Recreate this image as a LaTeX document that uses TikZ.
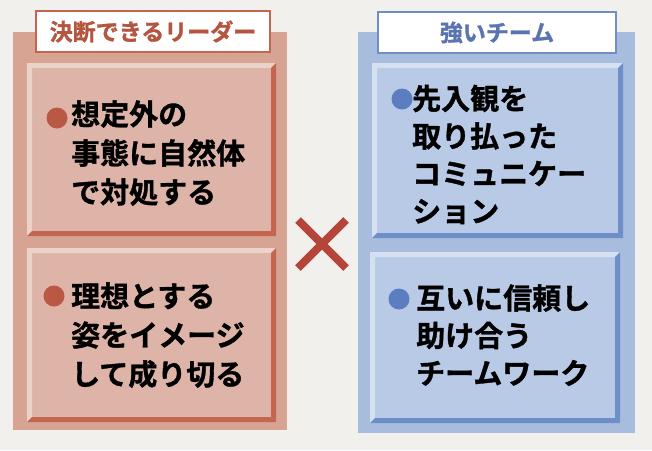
\documentclass[tikz,border=0pt]{standalone}
\usepackage{fontspec}
\newfontfamily\jp{Noto Sans CJK JP}[BoldFont={Noto Sans CJK JP Bold}, BoldFeatures={FakeBold=1.2}]
\definecolor{pagebg}{HTML}{F2F0ED}
\definecolor{lpanel}{HTML}{D7A494}
\definecolor{lbox}{HTML}{DDB4A7}
\definecolor{llight}{HTML}{EBD3CA}
\definecolor{ldark}{HTML}{C4664F}
\definecolor{ltext}{HTML}{B4553F}
\definecolor{lbullet}{HTML}{B95943}
\definecolor{rpanel}{HTML}{A8BDDE}
\definecolor{rbox}{HTML}{B8CAE6}
\definecolor{rlight}{HTML}{D5E0F1}
\definecolor{rdark}{HTML}{6E8EC9}
\definecolor{rtext}{HTML}{5A74B2}
\definecolor{rbullet}{HTML}{5C7DC0}
\definecolor{crossc}{HTML}{B5453A}
\newcommand\bevbox[7]{%
  \fill[#5] (#1,#2) rectangle (#3,#4);
  \fill[#6] (#1,#2) -- (#3,#2) -- ({#3-5},{#2+5}) -- ({#1+5},{#2+5}) -- cycle;
  \fill[#6] (#1,#2) -- ({#1+5},{#2+5}) -- ({#1+5},{#4-5}) -- (#1,#4) -- cycle;
  \fill[#7] (#3,#2) -- (#3,#4) -- ({#3-5},{#4-5}) -- ({#3-5},{#2+5}) -- cycle;
  \fill[#7] (#1,#4) -- (#3,#4) -- ({#3-5},{#4-5}) -- ({#1+5},{#4-5}) -- cycle;
}
\begin{document}
\begin{tikzpicture}[x=1pt,y=-1pt,
  bodyl/.style={font=\jp\bfseries\fontsize{29}{39}\selectfont, anchor=base west, align=left, inner sep=0pt, text=black},
  bodyr/.style={font=\jp\bfseries\fontsize{29}{37.5}\selectfont, anchor=base west, align=left, inner sep=0pt, text=black},
  titlebox/.style={draw=#1, line width=2.5pt, fill=white, minimum width=234pt, minimum height=41pt, inner sep=0pt, text=#1, font=\jp\bfseries\fontsize{23}{28}\selectfont},
]
\fill[pagebg] (0,0) rectangle (652,450);
\useasboundingbox (0,0) rectangle (652,450);
% left panel
\fill[lpanel] (13,32) rectangle (287,430);
\bevbox{27}{63}{276}{236}{lbox}{llight}{ldark}
\bevbox{27}{248}{276}{422}{lbox}{llight}{ldark}
\node[titlebox=ldark, text=ltext] (ltitle) at (153,31.5) {決断できるリーダー};
\fill[lbullet] (57,118) circle (10.5pt);
\node[bodyl] (l1) at (71,203) {想定外の\\事態に自然体\\で対処する};
\fill[lbullet] (54,296) circle (10.5pt);
\node[bodyl] (l2) at (71,385) {理想とする\\姿をイメージ\\して成り切る};
% right panel
\fill[rpanel] (358,32) rectangle (635,433);
\bevbox{372}{63}{623}{238}{rbox}{rlight}{rdark}
\bevbox{370}{252}{620}{423}{rbox}{rlight}{rdark}
\node[titlebox=rdark, text=rtext, minimum width=238pt] (rtitle) at (497,32.5) {強いチーム};
\fill[rbullet] (402,99) circle (10.5pt);
\node[bodyr] (r1) at (412,222) {先入観を\\取り払った\\コミュニケー\\ション};
\fill[rbullet] (399,299) circle (10.5pt);
\node[bodyr] (r2) at (416,384) {互いに信頼し\\助け合う\\チームワーク};
% cross
\coordinate (c1) at (298,220);
\coordinate (c2) at (346,268);
\coordinate (c3) at (346,220);
\coordinate (c4) at (298,268);
\draw[crossc, line width=8pt] (c1) -- (c2) (c3) -- (c4);
\end{tikzpicture}
\end{document}
